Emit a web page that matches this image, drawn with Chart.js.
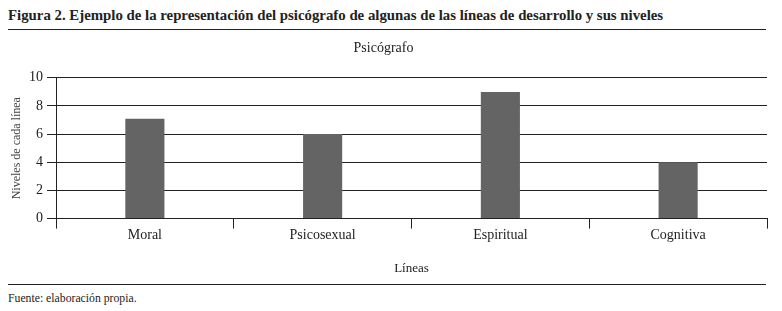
<!DOCTYPE html>
<html><head><meta charset="utf-8">
<script src="https://cdn.jsdelivr.net/npm/chart.js@4/dist/chart.umd.min.js"></script>
<style>
html,body{margin:0;padding:0;background:#fff;width:782px;height:311px;overflow:hidden;font-family:"Liberation Serif",serif;color:#222;}
#hdr{position:absolute;left:8px;top:8px;font-weight:bold;font-size:14px;white-space:nowrap;transform-origin:0 0;}
#l1{position:absolute;left:8px;top:29px;width:758px;height:1px;background:#222;}
#l2{position:absolute;left:8px;top:284px;width:758px;height:1px;background:#222;}
#ftr{position:absolute;left:8px;top:291px;font-size:12px;white-space:nowrap;transform-origin:0 0;}
#wrap{position:absolute;left:0;top:32px;width:782px;height:248px;}
</style></head><body>
<div id="hdr">Figura 2. Ejemplo de la representación del psicógrafo de algunas de las líneas de desarrollo y sus niveles</div>
<div id="l1"></div>
<div id="wrap"><canvas id="c"></canvas></div>
<div id="l2"></div>
<div id="ftr">Fuente: elaboración propia.</div>
<script>
const categories = ["Moral", "Psicosexual", "Espiritual", "Cognitiva"];
const niveles = [7.1, 6, 9, 4];
const yTicks = [0, 2, 4, 6, 8, 10];

const hdr = document.getElementById('hdr');
hdr.style.transform = 'scaleX(' + (655 / hdr.offsetWidth) + ')';
const ftr = document.getElementById('ftr');
ftr.style.transform = 'scaleX(' + (129 / ftr.offsetWidth) + ')';

new Chart(document.getElementById('c'), {
  type: 'bar',
  data: { labels: categories, datasets: [{ data: niveles, backgroundColor: '#646464', borderWidth: 0, barPercentage: 0.22, categoryPercentage: 1 }] },
  options: {
    responsive: true, maintainAspectRatio: false, animation: false,
    layout: { padding: { left: 0, right: 15, top: 0, bottom: 4 } },
    plugins: {
      legend: { display: false }, tooltip: { enabled: false },
      title: { display: true, text: 'Psicógrafo', color: '#222', font: { family: 'Liberation Serif', size: 14, weight: 'normal' }, padding: { top: 8, bottom: 21 } }
    },
    scales: {
      x: {
        offset: true,
        grid: { display: true, offset: true, drawOnChartArea: false, drawTicks: true, tickLength: 10, color: '#222', lineWidth: 1 },
        border: { display: true, color: '#222', width: 1 },
        ticks: { color: '#222', font: { family: 'Liberation Serif', size: 14 }, padding: -2, maxRotation: 0 },
        title: { display: true, text: 'Líneas', color: '#222', font: { family: 'Liberation Serif', size: 13 }, padding: { top: 19, bottom: 0 } }
      },
      y: {
        min: 0, max: 10,
        afterBuildTicks: s => { s.ticks = yTicks.map(v => ({ value: v })); },
        grid: { color: '#222', lineWidth: 1, tickLength: 9, drawTicks: true },
        border: { display: true, color: '#222', width: 1 },
        ticks: { color: '#222', font: { family: 'Liberation Serif', size: 14 }, padding: 4 },
        title: { display: true, text: 'Niveles de cada línea', color: '#444', font: { family: 'Liberation Serif', size: 12 }, padding: { top: 10, bottom: 2 } },
        afterFit: s => { s.width = 56; }
      }
    }
  }
});
</script>
</body></html>
